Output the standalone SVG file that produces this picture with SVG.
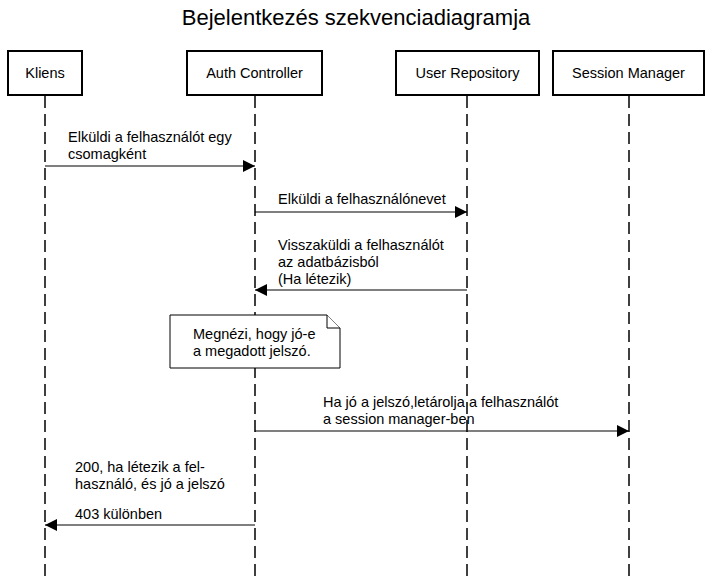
<svg xmlns="http://www.w3.org/2000/svg" width="712" height="582" viewBox="0 0 712 582">
<style>
text{font-family:"Liberation Sans",Arial,sans-serif;font-size:14.5px;fill:#000}
.title{font-size:22px}
.box{fill:#fff;stroke:#000;stroke-width:2}
.life{stroke:#000;stroke-width:1.5;stroke-dasharray:12 6;fill:none}
.msg{stroke:#000;stroke-width:1.2;fill:none;marker-end:url(#ah)}
.note{fill:#fff;stroke:#000;stroke-width:1}
</style>
<defs>
<marker id="ah" viewBox="0 0 12 12" refX="12" refY="6" markerWidth="12" markerHeight="12" markerUnits="userSpaceOnUse" orient="auto">
<path d="M0,0 L12,6 L0,12 Z" fill="#000"/>
</marker>
</defs>
<text class="title" x="356" y="25" text-anchor="middle">Bejelentkezés szekvenciadiagramja</text>
<g id="lifelines">
<line class="life" x1="45" y1="96" x2="45" y2="580"/>
<line class="life" x1="255" y1="96" x2="255" y2="580"/>
<line class="life" x1="467" y1="96" x2="467" y2="580"/>
<line class="life" x1="629" y1="96" x2="629" y2="580"/>
</g>
<g id="kliens"><rect class="box" x="8" y="51" width="74" height="44"/><text x="45" y="78" text-anchor="middle">Kliens</text></g>
<g id="auth"><rect class="box" x="187" y="51" width="135" height="44"/><text x="254.5" y="78" text-anchor="middle">Auth Controller</text></g>
<g id="repo"><rect class="box" x="396" y="51" width="143" height="44"/><text x="467.5" y="78" text-anchor="middle">User Repository</text></g>
<g id="session"><rect class="box" x="553" y="51" width="151" height="44"/><text x="628.5" y="78" text-anchor="middle">Session Manager</text></g>
<g id="connectors">
<line class="msg" x1="45" y1="166" x2="255" y2="166"/>
<line class="msg" x1="255" y1="212" x2="467" y2="212"/>
<line class="msg" x1="467" y1="290" x2="255" y2="290"/>
<line class="msg" x1="255" y1="431" x2="629" y2="431"/>
<line class="msg" x1="255" y1="525" x2="45" y2="525"/>
</g>
<g id="labels">
<text x="68" y="142">Elküldi a felhasználót egy</text>
<text x="68" y="159">csomagként</text>
<text x="278" y="204">Elküldi a felhasználónevet</text>
<text x="278" y="250">Visszaküldi a felhasználót</text>
<text x="278" y="267">az adatbázisból</text>
<text x="278" y="284">(Ha létezik)</text>
<text x="323" y="407">Ha jó a jelszó,letárolja a felhasználót</text>
<text x="323" y="424">a session manager-ben</text>
<text x="75" y="472">200, ha létezik a fel-</text>
<text x="75" y="489">használó, és jó a jelszó</text>
<text x="75" y="519">403 különben</text>
</g>
<g id="note">
<path class="note" d="M170,315 H327 L340,328 V368 H170 Z"/>
<path class="note" d="M327,315 V328 H340" fill="none"/>
<text x="193" y="339">Megnézi, hogy jó-e</text>
<text x="193" y="356">a megadott jelszó.</text>
</g>
</svg>
